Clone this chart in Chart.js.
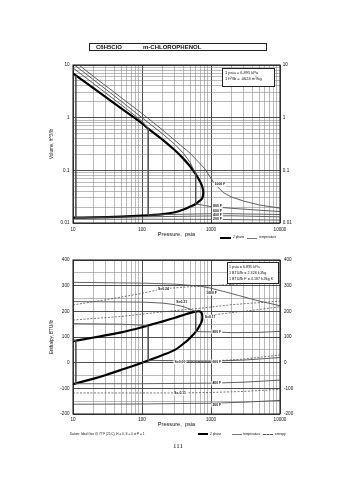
<!DOCTYPE html>
<html><head><meta charset="utf-8">
<script src="https://cdn.jsdelivr.net/npm/chart.js@4.4.0/dist/chart.umd.min.js"></script>
<style>
html,body{margin:0;padding:0;background:#fff;width:355px;height:480px;overflow:hidden;font-family:"Liberation Sans",Arial,sans-serif;color:#111;}
canvas{position:absolute;left:0;}
#c1{top:0;}
#c2{top:245px;}
.box{position:absolute;border:1px solid #222;background:#fff;box-sizing:border-box;}
.t{position:absolute;white-space:nowrap;line-height:1;}
.ln{position:absolute;height:0;}
</style></head><body>
<canvas id="c1" width="355" height="245"></canvas>
<canvas id="c2" width="355" height="235"></canvas>

<div class="box" style="left:89px;top:43px;width:178px;height:8px;"></div>
<div class="t" style="left:96px;top:44px;font-size:6px;font-weight:bold;">C6H5ClO</div>
<div class="t" style="left:143px;top:44px;font-size:6px;font-weight:bold;">m-CHLOROPHENOL</div>

<div class="box" style="left:222px;top:68px;width:53px;height:19px;"></div>
<div class="t" style="left:225px;top:71px;font-size:4px;">1 psia = 6.895 kPa</div>
<div class="t" style="left:225px;top:77px;font-size:4px;">1 ft³/lb = .0624 m³/kg</div>

<div class="ln" style="left:220px;top:237px;width:11px;border-top:2px solid #000;"></div>
<div class="t" style="left:233px;top:236px;font-size:3.2px;">2 phase</div>
<div class="ln" style="left:247px;top:238px;width:10px;border-top:1px solid #777;"></div>
<div class="t" style="left:259px;top:236px;font-size:3.2px;">temperature</div>

<div class="box" style="left:227px;top:262px;width:52px;height:22px;"></div>
<div class="t" style="left:229px;top:265.5px;font-size:3.7px;">1 psia = 6.895 kPa</div>
<div class="t" style="left:229px;top:271.5px;font-size:3.7px;">1 BTU/lb = 2.326 kJ/kg</div>
<div class="t" style="left:229px;top:277.5px;font-size:3.7px;">1 BTU/lb F = 4.187 kJ/kg K</div>

<div class="t" style="left:70px;top:432.5px;font-size:3.1px;">Datum: Ideal Gas @ 77 F (25 C), H = 0, S = 0 at P = 1</div>
<div class="ln" style="left:198px;top:433px;width:10px;border-top:2px solid #000;"></div>
<div class="t" style="left:210px;top:432.5px;font-size:3.2px;">2 phase</div>
<div class="ln" style="left:232px;top:434px;width:10px;border-top:1px solid #777;"></div>
<div class="t" style="left:243px;top:432.5px;font-size:3.2px;">temperature</div>
<div class="ln" style="left:263px;top:434px;width:10px;border-top:1px dashed #555;"></div>
<div class="t" style="left:275px;top:432.5px;font-size:3.2px;">entropy</div>

<div class="t" style="left:173px;top:443px;font-size:7px;font-family:'Liberation Serif',serif;">111</div>

<script>
// ---------- tick labels ----------
const pressureTicks = ['10','100','1000','10000'];
const volumeTicks = ['10','1','0.1','0.01'];
const enthalpyTicks = ['400','300','200','100','0','-100','-200'];

// ---------- Volume chart (P psia, v ft^3/lb) ----------
const volSatP = [10,20,50,100,123,200,300,400,500,600,700,750,772,765,740,700,600,500,400,300,200,100,50,20,10];
const volSatV = [6.9,3.6,1.5,0.78,0.62,0.38,0.24,0.165,0.118,0.085,0.06,0.048,0.039,0.033,0.029,0.027,0.023,0.0205,0.018,0.016,0.0148,0.0138,0.0132,0.0128,0.0126];

const volT200P = [10,100,1000,10000];
const volT200V = [0.0118,0.0118,0.0117,0.0114];
const volT400P = [11,11,100,1000,2000,10000];
const volT400V = [6.3,0.0127,0.0131,0.0136,0.0137,0.0131];
const volT600P = [10,20,50,100,123,123,300,1000,2000,10000];
const volT600V = [8.8,4.4,1.75,0.86,0.62,0.0141,0.0146,0.015,0.015,0.0145];
const volT800P = [10.5,20,50,100,200,300,400,500,600,600,800,1000,2000,5000,10000];
const volT800V = [10,5.2,2.05,1.0,0.49,0.31,0.21,0.14,0.085,0.023,0.0215,0.0205,0.019,0.0175,0.0165];
const volT1000P = [12.2,20,50,100,200,500,800,1100,1500,2000,3000,5000,10000];
const volT1000V = [10,6.0,2.4,1.2,0.58,0.21,0.11,0.058,0.038,0.031,0.026,0.022,0.0192];

const volLabelText = ['1000 F','800 F','600 F','400 F','200 F'];
const volLabelP = [1350,1240,1240,1240,1240];
const volLabelV = [0.054,0.0213,0.0171,0.0142,0.0119];

// ---------- Enthalpy chart (P psia, H BTU/lb) ----------
const enthSatP = [10,20,50,100,200,300,400,500,600,680,730,750,745,720,680,620,500,444,300,200,100,50,30,20,10];
const enthSatH = [84,98,118,138,161,175,186,194,199,200,194,181,168,155,143,125,97,84,50,30,0,-28,-48,-62,-84];

const enthT200P = [10,100,1000,3000,10000];
const enthT200H = [-162,-161,-158,-154,-147];
const enthT400P = [10,11,11,100,1000,3000,10000];
const enthT400H = [86,86,-82,-82,-80,-76,-68];
const enthT600P = [10,50,100,123,123,300,1000,3000,10000];
const enthT600H = [152,150,146,142,9,8,6,10,20];
const enthT800P = [10,100,200,300,400,500,600,600,1000,2000,5000,10000];
const enthT800H = [238,236,232,226,218,208,199,121,120,117,118,122];
const enthT1000P = [10,100,300,700,1000,1500,2500,5000,10000];
const enthT1000H = [313,310,306,298,290,278,262,240,222];

const entS024P = [10,30,100,200,500,1000,3000,10000];
const entS024H = [225,245,270,288,296,300,308,318];
const entS021P = [10,50,200,690,2000,10000];
const entS021H = [166,180,198,212,226,240];
const entS017P = [800,2000,5000,10000];
const entS017H = [182,195,207,218];
const entS000P = [100,350,1000,3000,10000];
const entS000H = [0,2,6,14,30];
const entSm011P = [10,100,355,1000,3000,10000];
const entSm011H = [-118,-118,-118,-116,-112,-104];

const enthLabelText = ['S=0.24','S=0.21','1000 F','S=0.17','800 F','S=0.00','600 F','400 F','S=-0.11','200 F'];
const enthLabelP = [204,375,1020,970,1210,355,1210,1210,355,1210];
const enthLabelH = [286,235,270,179,121,2,4,-80,-119,-165];

// ---------- helpers ----------
const FONT = '"Liberation Sans", Arial, sans-serif';
const pts = (xs, ys) => xs.map((x, i) => ({x, y: ys[i]}));
const iso = (xs, ys) => ({data: pts(xs, ys), showLine: true, borderColor: '#505050', borderWidth: 0.9, pointRadius: 0, tension: 0});
const ent = (xs, ys) => ({data: pts(xs, ys), showLine: true, borderColor: '#555', borderWidth: 0.8, borderDash: [2, 1.5], pointRadius: 0, tension: 0});
const sat = (xs, ys) => ({data: pts(xs, ys), showLine: true, borderColor: '#000', borderWidth: 2.2, pointRadius: 0, tension: 0.3});
const isDecade = v => Math.abs(Math.log10(v) - Math.round(Math.log10(v))) < 1e-6;
function logGrid(scale) {
  const lo = Math.round(Math.log10(scale.options.min)), hi = Math.round(Math.log10(scale.options.max));
  const t = [];
  for (let e = lo; e < hi; e++) for (let m = 1; m < 10; m++) t.push({value: m * Math.pow(10, e)});
  t.push({value: Math.pow(10, hi)});
  scale.ticks = t;
}
const logGridStyle = {
  drawTicks: false,
  color: c => (c.tick && isDecade(c.tick.value)) ? '#3c3c3c' : '#8c8c8c',
  lineWidth: c => (c.tick && isDecade(c.tick.value)) ? 0.9 : 0.6
};
const frame = {
  id: 'frame',
  afterDraw(chart) {
    const {ctx, chartArea: a} = chart;
    ctx.save(); ctx.strokeStyle = '#111'; ctx.lineWidth = 1;
    ctx.strokeRect(a.left, a.top, a.right - a.left, a.bottom - a.top);
    ctx.restore();
  }
};
const lineLabels = {
  id: 'lineLabels',
  afterDatasetsDraw(chart, args, o) {
    const {ctx, scales: {x, y}} = chart;
    ctx.save();
    ctx.font = 'bold 3.4px ' + FONT;
    ctx.textAlign = 'center'; ctx.textBaseline = 'middle';
    o.text.forEach((s, i) => {
      const px = x.getPixelForValue(o.xs[i]), py = y.getPixelForValue(o.ys[i]);
      const w = ctx.measureText(s).width + 2;
      ctx.fillStyle = '#fff'; ctx.fillRect(px - w / 2, py - 2.2, w, 4.4);
      ctx.fillStyle = '#111'; ctx.fillText(s, px, py);
    });
    ctx.restore();
  }
};
function xScale(h, titlePad, tickPad) {
  return {
    type: 'logarithmic', position: 'bottom', min: 10, max: 10000,
    afterBuildTicks: logGrid,
    afterFit: s => { s.height = h; },
    border: {display: false},
    grid: logGridStyle,
    ticks: {autoSkip: false, maxRotation: 0, padding: tickPad, color: '#111', font: {family: FONT, size: 4.6},
      callback: v => isDecade(v) ? pressureTicks[Math.round(Math.log10(v)) - 1] : ''},
    title: {display: true, text: 'Pressure,  psia', color: '#111', font: {family: FONT, size: 5.6}, padding: {top: 0, bottom: titlePad}}
  };
}
const baseOpts = {responsive: false, animation: false, devicePixelRatio: 1, events: []};

// ---------- Volume chart ----------
const volTickCb = v => isDecade(v) ? volumeTicks[1 - Math.round(Math.log10(v))] : '';
new Chart(document.getElementById('c1'), {
  type: 'scatter',
  data: {datasets: [
    iso(volT200P, volT200V), iso(volT400P, volT400V), iso(volT600P, volT600V),
    iso(volT800P, volT800V), iso(volT1000P, volT1000V), sat(volSatP, volSatV)
  ]},
  options: Object.assign({}, baseOpts, {
    layout: {padding: {top: 65, left: 0, right: 0, bottom: 0}},
    plugins: {legend: {display: false}, tooltip: {enabled: false},
      lineLabels: {text: volLabelText, xs: volLabelP, ys: volLabelV}},
    scales: {
      x: xScale(22, 6.7, 4.3),
      y: {type: 'logarithmic', position: 'left', min: 0.01, max: 10,
        afterBuildTicks: logGrid, afterFit: s => { s.width = 73; },
        border: {display: false}, grid: logGridStyle,
        ticks: {autoSkip: false, padding: 3.5, color: '#111', font: {family: FONT, size: 4.6}, callback: volTickCb},
        title: {display: true, text: 'Volume, ft^3/lb', color: '#111', font: {family: FONT, size: 4.6}, padding: {top: 49.3, bottom: 0}}},
      y2: {type: 'logarithmic', position: 'right', min: 0.01, max: 10,
        afterBuildTicks: logGrid, afterFit: s => { s.width = 75; },
        border: {display: false}, grid: {display: false, drawTicks: false},
        ticks: {autoSkip: false, padding: 2.8, color: '#111', font: {family: FONT, size: 4.6}, callback: volTickCb}}
    }
  }),
  plugins: [frame, lineLabels]
});

// ---------- Enthalpy chart ----------
const enthTickCb = v => (v % 100 === 0) ? enthalpyTicks[(400 - v) / 100] : '';
const linGrid = {drawTicks: false,
  color: c => (c.tick && c.tick.value % 100 === 0) ? '#3c3c3c' : '#8c8c8c',
  lineWidth: c => (c.tick && c.tick.value % 100 === 0) ? 0.9 : 0.6};
new Chart(document.getElementById('c2'), {
  type: 'scatter',
  data: {datasets: [
    ent(entS024P, entS024H), ent(entS021P, entS021H), ent(entS017P, entS017H),
    ent(entS000P, entS000H), ent(entSm011P, entSm011H),
    iso(enthT200P, enthT200H), iso(enthT400P, enthT400H), iso(enthT600P, enthT600H),
    iso(enthT800P, enthT800H), iso(enthT1000P, enthT1000H), sat(enthSatP, enthSatH)
  ]},
  options: Object.assign({}, baseOpts, {
    layout: {padding: {top: 15, left: 0, right: 0, bottom: 50}},
    plugins: {legend: {display: false}, tooltip: {enabled: false},
      lineLabels: {text: enthLabelText, xs: enthLabelP, ys: enthLabelH}},
    scales: {
      x: xScale(16, 1.7, 3.3),
      y: {type: 'linear', position: 'left', min: -200, max: 400,
        afterFit: s => { s.width = 73; },
        border: {display: false}, grid: linGrid,
        ticks: {stepSize: 50, autoSkip: false, padding: 3.5, color: '#111', font: {family: FONT, size: 4.6}, callback: enthTickCb},
        title: {display: true, text: 'Enthalpy, BTU/lb', color: '#111', font: {family: FONT, size: 4.6}, padding: {top: 49.3, bottom: 0}}},
      y2: {type: 'linear', position: 'right', min: -200, max: 400,
        afterFit: s => { s.width = 75; },
        border: {display: false}, grid: {display: false, drawTicks: false},
        ticks: {stepSize: 50, autoSkip: false, padding: 4, color: '#111', font: {family: FONT, size: 4.6}, callback: enthTickCb}}
    }
  }),
  plugins: [frame, lineLabels]
});
</script>
</body></html>
